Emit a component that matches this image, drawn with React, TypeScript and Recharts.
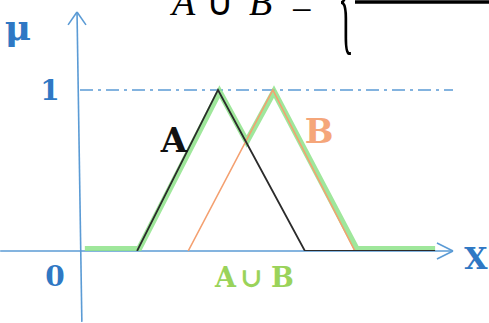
import React from "react";
import { LineChart, Line, XAxis, YAxis, ReferenceLine } from "recharts";

// membership functions, x in universe units, y = membership degree
const setA = [
  { x: 1.53, y: 0 },
  { x: 3.7, y: 1 },
  { x: 6.03, y: 0 },
  { x: 9.52, y: 0 },
];
const setB = [
  { x: 2.9, y: 0 },
  { x: 5.17, y: 1 },
  { x: 7.37, y: 0 },
];
const unionAB = [
  { x: 0.13, y: 0.012 },
  { x: 1.58, y: 0.012 },
  { x: 3.74, y: 0.99 },
  { x: 4.47, y: 0.68 },
  { x: 5.2, y: 0.99 },
  { x: 7.42, y: 0.012 },
  { x: 9.52, y: 0.012 },
];
const muTicks = [0, 1];

const BLUE_AXIS = "#5b9bd5";
const BLUE_TEXT = "#2f78c4";
const GREEN = "#8ee38a";
const ORANGE = "#f4a070";
const LABEL_FONT = "'DejaVu Serif', serif";

const MuTick = (props: any) => {
  const { x, y, payload } = props;
  const isZero = payload.value === 0;
  return (
    <text
      x={x - (isZero ? 17 : 22)}
      y={isZero ? y + 25 : y + 1}
      textAnchor="middle"
      dominantBaseline="central"
      fontFamily={LABEL_FONT}
      fontWeight="bold"
      fontSize={28}
      fill={BLUE_TEXT}
    >
      {payload.value}
    </text>
  );
};

export default function App() {
  return (
    <div style={{ position: "absolute", left: 0, top: 0, width: 489, height: 323, background: "#fff" }}>
      <LineChart width={489} height={323} margin={{ top: 12, right: 36, bottom: 72, left: 0 }}>
        <XAxis type="number" dataKey="x" domain={[0, 10]} allowDataOverflow hide />
        <YAxis
          type="number"
          width={80}
          domain={[0, 1.484]}
          allowDataOverflow
          ticks={muTicks}
          axisLine={false}
          tickLine={false}
          tick={<MuTick />}
        />
        {/* axes drawn as arrows */}
        <ReferenceLine segment={[{ x: -2.14, y: 0 }, { x: 10, y: 0 }]} stroke={BLUE_AXIS} strokeWidth={1.6} ifOverflow="visible" />
        <ReferenceLine segment={[{ x: 9.57, y: 0.05 }, { x: 10, y: 0 }]} stroke={BLUE_AXIS} strokeWidth={1.6} ifOverflow="visible" />
        <ReferenceLine segment={[{ x: 9.57, y: -0.05 }, { x: 10, y: 0 }]} stroke={BLUE_AXIS} strokeWidth={1.6} ifOverflow="visible" />
        <ReferenceLine segment={[{ x: -0.08, y: 1.484 }, { x: 0.05, y: -0.44 }]} stroke={BLUE_AXIS} strokeWidth={1.6} ifOverflow="visible" />
        <ReferenceLine segment={[{ x: -0.32, y: 1.404 }, { x: -0.08, y: 1.484 }]} stroke={BLUE_AXIS} strokeWidth={1.6} ifOverflow="visible" />
        <ReferenceLine segment={[{ x: 0.16, y: 1.404 }, { x: -0.08, y: 1.484 }]} stroke={BLUE_AXIS} strokeWidth={1.6} ifOverflow="visible" />
        <ReferenceLine
          segment={[{ x: 0, y: 1 }, { x: 10, y: 1 }]}
          stroke={BLUE_AXIS}
          strokeWidth={1.5}
          strokeDasharray="13 5 3 5"
          ifOverflow="visible"
        />
        <Line data={unionAB} dataKey="y" type="linear" stroke={GREEN} strokeOpacity={0.85} strokeWidth={6} dot={false} isAnimationActive={false} />
        <Line data={setB} dataKey="y" type="linear" stroke={ORANGE} strokeWidth={1.6} dot={false} isAnimationActive={false} />
        <Line data={setA} dataKey="y" type="linear" stroke="#2b2b2b" strokeWidth={1.8} dot={false} isAnimationActive={false} />
      </LineChart>
      <svg width={489} height={323} style={{ position: "absolute", left: 0, top: 0, pointerEvents: "none" }}>
        <text x={18} y={40} textAnchor="middle" fontFamily={LABEL_FONT} fontWeight="bold" fontSize={36} fill={BLUE_TEXT}>μ</text>
        <text x={476} y={269} textAnchor="middle" fontFamily={LABEL_FONT} fontWeight="bold" fontSize={30} fill={BLUE_TEXT}>X</text>
        <text x={174} y={152} textAnchor="middle" fontFamily={LABEL_FONT} fontWeight="bold" fontSize={34} fill="#111">A</text>
        <text x={319} y={143} textAnchor="middle" fontFamily={LABEL_FONT} fontWeight="bold" fontSize={34} fill="#f5a67a">B</text>
        <text y={287} fontFamily={LABEL_FONT} fontWeight="bold" fontSize={27} fill="#9ad35a">
          <tspan x={215}>A</tspan>
          <tspan x={240}>∪</tspan>
          <tspan x={271}>B</tspan>
        </text>
        {/* formula heading */}
        <text y={15} fontFamily="'Liberation Serif', serif" fontStyle="italic" fontSize={38} fill="#000">
          <tspan x={172}>A</tspan>
          <tspan x={206} fontStyle="normal">∪</tspan>
          <tspan x={249}>B</tspan>
          <tspan x={291} y={23} fontStyle="normal">−</tspan>
        </text>
        <text
          x={0}
          y={0}
          fontFamily="'Liberation Serif', serif"
          fontSize={128}
          fill="#000"
          transform="translate(338 38) scale(0.26 1)"
        >
          {"{"}
        </text>
        <line x1={355} y1={2} x2={489} y2={2} stroke="#000" strokeWidth={3.5} />
      </svg>
    </div>
  );
}
